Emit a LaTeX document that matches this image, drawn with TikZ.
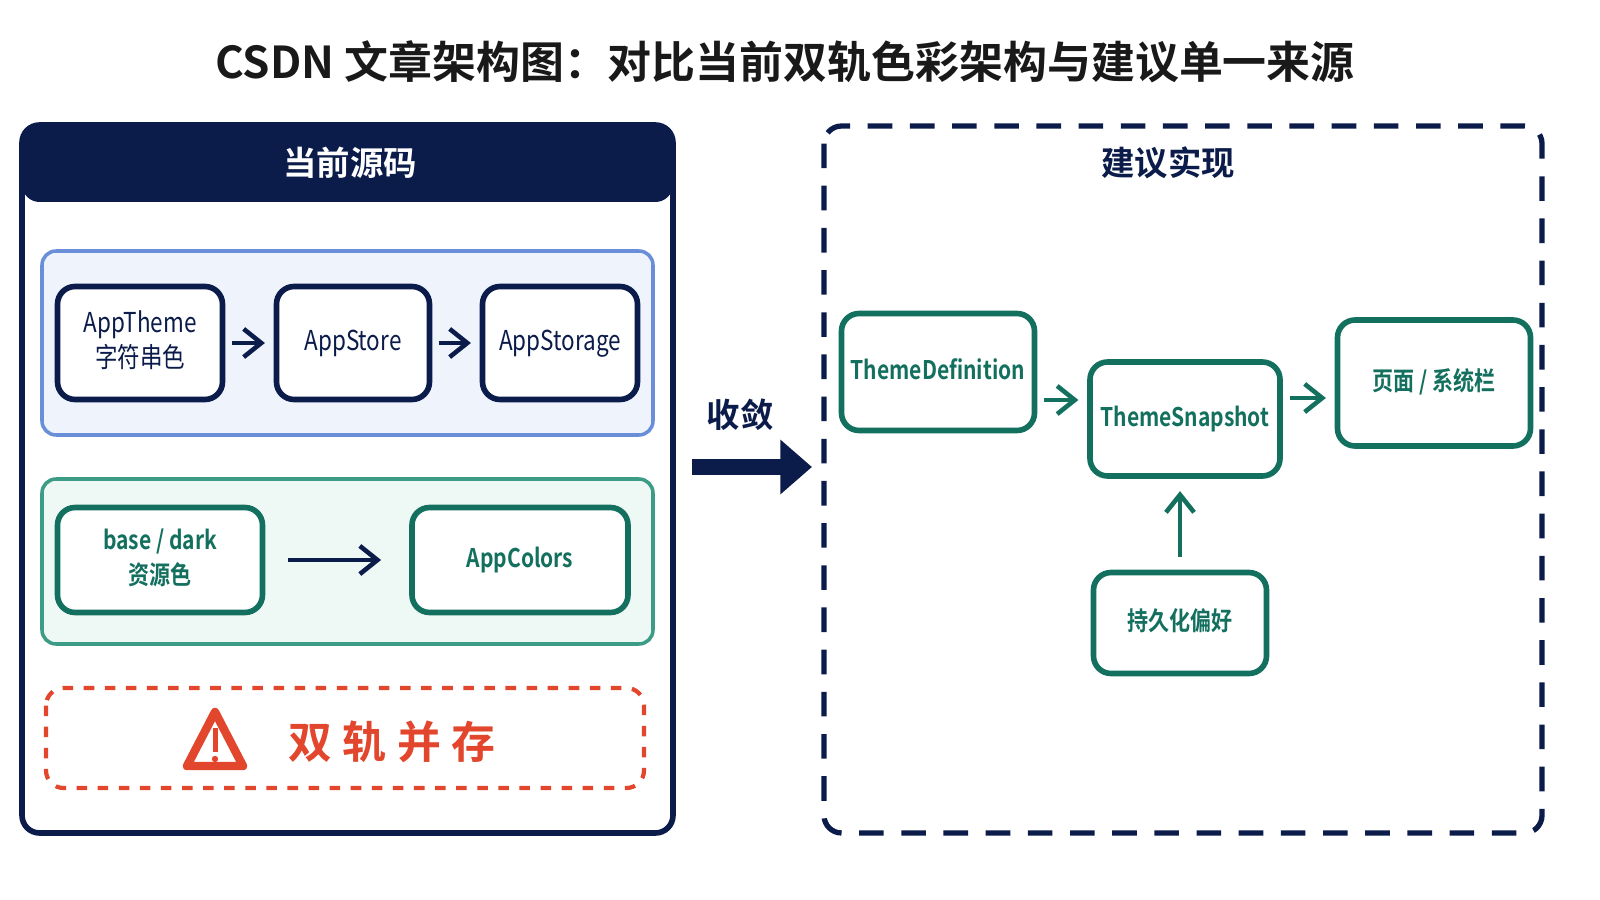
\documentclass[tikz,border=0pt]{standalone}
\usepackage{fontspec}
\setmainfont{Noto Sans CJK SC}[BoldFont={Noto Sans CJK SC Bold}]
\usetikzlibrary{arrows.meta,positioning}
\definecolor{navy}{HTML}{0B1B4A}
\definecolor{teal}{HTML}{13705E}
\definecolor{alarm}{HTML}{E2462C}
\definecolor{bluefill}{HTML}{EEF3FC}
\definecolor{blueline}{HTML}{6A8FD8}
\definecolor{greenfill}{HTML}{EEF8F5}
\definecolor{greenline}{HTML}{3C9C86}
\newcommand\cond[1]{\scalebox{0.82}[1]{\begin{tabular}{@{}c@{}}#1\end{tabular}}}
\tikzset{
  box/.style={draw=navy, line width=1.6pt, rounded corners=5pt, fill=white, align=center, inner sep=0pt, text=navy, font=\fontsize{7.8}{10}\selectfont},
  gbox/.style={box, draw=teal, text=teal, font=\bfseries\fontsize{7.3}{10}\selectfont},
  flow/.style={-{Straight Barb[length=5pt,width=8pt]}, line width=1.3pt, draw=navy},
  gflow/.style={flow, draw=teal}
}
\begin{document}
\begin{tikzpicture}[x=0.1mm, y=-0.1mm]
                \useasboundingbox (0,0) rectangle (1600,900);
                % Title
                \node[font=\bfseries\fontsize{12.5}{15}\selectfont, text=black!90] (title) at (785,62) {CSDN 文章架构图：对比当前双轨色彩架构与建议单一来源};

                % Left panel
                \draw[navy, line width=1.6pt, rounded corners=5pt] (22,125) rectangle (673,833);
                \fill[navy, rounded corners=5pt] (22,125) rectangle (673,202);
                \node[text=white, font=\bfseries\fontsize{9.5}{11}\selectfont] (lefthead) at (350,163) {当前源码};
                \draw[blueline, fill=bluefill, line width=1pt, rounded corners=4pt] (42,251) rectangle (653,435);
                \draw[greenline, fill=greenfill, line width=1pt, rounded corners=4pt] (42,479) rectangle (653,644);
                \node[box, minimum width=165*0.1mm, minimum height=113*0.1mm] (apptheme) at (140,343) {\cond{AppTheme\\字符串色}};
                \node[box, minimum width=153*0.1mm, minimum height=113*0.1mm] (appstore) at (353,343) {\cond{AppStore}};
                \node[box, minimum width=155*0.1mm, minimum height=113*0.1mm] (appstorage) at (560,343) {\cond{AppStorage}};
                \draw[flow, shorten <=2pt, shorten >=2.5pt] (apptheme) -- (appstore);
                \draw[flow, shorten <=2pt, shorten >=2.5pt] (appstore) -- (appstorage);
                \node[gbox, minimum width=205*0.1mm, minimum height=105*0.1mm] (basedark) at (160,560) {\cond{base / dark\\资源色}};
                \node[gbox, minimum width=216*0.1mm, minimum height=105*0.1mm] (appcolors) at (520,560) {\cond{AppColors}};
                \draw[flow, shorten <=6.5pt, shorten >=8pt] (basedark) -- (appcolors);

                % Warning
                \draw[alarm, line width=1.2pt, dashed, rounded corners=5pt] (46,688) rectangle (644,788);
                \coordinate (warn) at (215,740);
                \draw[alarm, line width=2.4pt, line join=round] (215,712) -- (243,766) -- (187,766) -- cycle;
                \fill[alarm] (212.5,728) rectangle (217.5,752);
                \fill[alarm] (215,759) circle (3.2);
                \node[text=alarm, font=\bfseries\fontsize{12.5}{14}\selectfont] (dual) at (392,742) {双\hspace{3pt}轨\hspace{3pt}并\hspace{3pt}存};

                % Converge arrow
                \coordinate (convA) at (692,467);
                \coordinate (convB) at (812,467);
                \draw[navy, line width=4.5pt, -{Triangle[length=9pt,width=15pt]}] (convA) -- (convB);
                \node[text=navy, font=\bfseries\fontsize{9.5}{11}\selectfont] (conv) at (740,415) {收敛};

                % Right panel
                \draw[navy, line width=1.5pt, dash pattern=on 7pt off 5pt, rounded corners=5pt] (824,126) rectangle (1542,833);
                \node[text=navy, font=\bfseries\fontsize{9.5}{11}\selectfont] (righthead) at (1168,163) {建议实现};
                \node[gbox, minimum width=193*0.1mm, minimum height=117*0.1mm] (themedef) at (938,372) {\cond{ThemeDefinition}};
                \node[gbox, minimum width=190*0.1mm, minimum height=114*0.1mm] (snapshot) at (1185,419) {\cond{ThemeSnapshot}};
                \node[gbox, minimum width=193*0.1mm, minimum height=126*0.1mm] (page) at (1434,383) {\cond{页面 / 系统栏}};
                \node[gbox, minimum width=173*0.1mm, minimum height=101*0.1mm] (prefs) at (1180,623) {\cond{持久化偏好}};
                \draw[gflow, shorten <=2pt, shorten >=2.5pt] (themedef.east |- 0,400) -- (snapshot.west |- 0,400);
                \draw[gflow, shorten <=2pt, shorten >=2.5pt] (snapshot.east |- 0,398) -- (page.west |- 0,398);
                \draw[gflow, shorten <=3.5pt, shorten >=3.5pt] (prefs.north -| 1180,0) -- (snapshot.south -| 1180,0);
\end{tikzpicture}
\end{document}
